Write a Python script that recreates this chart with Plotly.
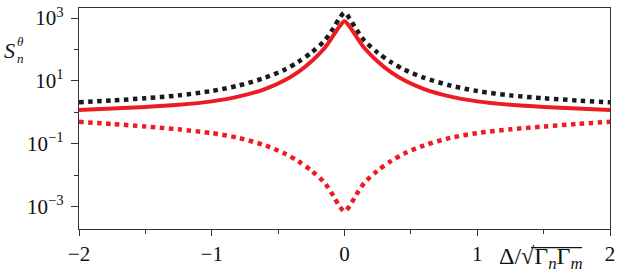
import plotly.graph_objects as go

delta = [-2.0, -1.75, -1.5, -1.25, -1.0, -0.8, -0.6, -0.45, -0.35, -0.25, -0.15, -0.08, -0.04, 0.0,
         0.04, 0.08, 0.15, 0.25, 0.35, 0.45, 0.6, 0.8, 1.0, 1.25, 1.5, 1.75, 2.0]

red_solid = [1.20, 1.32, 1.48, 1.74, 2.24, 3.16, 5.50, 10.5, 19.1, 41.7, 112, 295, 525, 794,
             525, 295, 112, 41.7, 19.1, 10.5, 5.50, 3.16, 2.24, 1.74, 1.48, 1.32, 1.20]

black_dotted = [2.09, 2.40, 2.82, 3.47, 4.79, 7.08, 12.6, 22.9, 39.8, 79.4, 191, 501, 955, 1479,
                955, 501, 191, 79.4, 39.8, 22.9, 12.6, 7.08, 4.79, 3.47, 2.82, 2.40, 2.09]

red_dotted = [0.50, 0.427, 0.355, 0.288, 0.219, 0.155, 0.0891, 0.0490, 0.0282, 0.0141, 0.00575, 0.00209, 0.00107, 0.000708,
              0.00107, 0.00209, 0.00575, 0.0141, 0.0282, 0.0490, 0.0891, 0.155, 0.219, 0.288, 0.355, 0.427, 0.50]

x_ticks = [-2, -1, 0, 1, 2]
x_ticktext = ["\u22122", "\u22121", "0", "1", "2"]
y_ticks = [1e-3, 1e-1, 1e1, 1e3]
y_ticktext = ["10<sup>\u22123</sup>", "10<sup>\u22121</sup>", "10<sup>1</sup>", "10<sup>3</sup>"]

RED = "#ED1C24"
BLACK = "#1a1a1a"
FONT = "Liberation Serif"
TXT = "#111"

# plot area in pixels
L, R, T, B = 79, 611, 4, 229
W, H = R - L, B - T


def px(x):
    return (x - L) / W


def py(y):
    return (B - y) / H


fig = go.Figure()
fig.add_trace(go.Scatter(x=delta, y=black_dotted, mode="lines",
                         line=dict(color=BLACK, width=4.5, dash="dot", shape="spline", smoothing=0.8)))
fig.add_trace(go.Scatter(x=delta, y=red_dotted, mode="lines",
                         line=dict(color=RED, width=4.5, dash="dot", shape="spline", smoothing=0.8)))
fig.add_trace(go.Scatter(x=delta, y=red_solid, mode="lines",
                         line=dict(color=RED, width=4, shape="spline", smoothing=0.8)))

axis_common = dict(showline=True, linecolor="#333", linewidth=1.2, mirror=True,
                   showgrid=False, zeroline=False, ticks="outside", tickcolor="#333",
                   tickwidth=1.2, tickfont=dict(family=FONT, size=21, color=TXT),
                   ticklabeloverflow="allow")

fig.update_layout(
    width=619, height=275,
    margin=dict(l=L, r=619 - R, t=T, b=275 - B),
    paper_bgcolor="white", plot_bgcolor="white",
    font=dict(family=FONT, color=TXT),
    showlegend=False,
    xaxis=dict(range=[-2, 2], tickvals=x_ticks, ticktext=x_ticktext, ticklen=6,
               minor=dict(tickvals=[-1.5, -0.5, 0.5, 1.5], ticklen=4, ticks="outside", tickcolor="#333", tickwidth=1.2),
               **axis_common),
    yaxis=dict(type="log", range=[-3.71, 3.32], tickvals=y_ticks, ticktext=y_ticktext, ticklen=7,
               minor=dict(tickvals=[1e-2, 1, 1e2], ticklen=4, ticks="outside", tickcolor="#333", tickwidth=1.2),
               ticklabelstandoff=3,
               **axis_common),
)

# x-axis title
fig.add_annotation(xref="paper", yref="paper", x=px(498), y=py(259),
                   showarrow=False, xanchor="left", yanchor="middle",
                   font=dict(family=FONT, size=24, color=TXT),
                   text="\u0394/\u221a\u0393<sub><i>n</i></sub>\u0393<sub><i>m</i></sub>")
fig.add_shape(type="line", xref="paper", yref="paper",
              x0=px(532), x1=px(583), y0=py(248), y1=py(248),
              line=dict(color=TXT, width=1.2))

# y-axis title S_n^theta
fig.add_annotation(xref="paper", yref="paper", x=px(9), y=py(47),
                   showarrow=False, xanchor="center", yanchor="middle",
                   font=dict(family=FONT, size=22, color=TXT), text="<i>S</i>")
fig.add_annotation(xref="paper", yref="paper", x=px(20), y=py(38),
                   showarrow=False, xanchor="center", yanchor="middle",
                   font=dict(family=FONT, size=13, color=TXT), text="<i>\u03b8</i>")
fig.add_annotation(xref="paper", yref="paper", x=px(20), y=py(55),
                   showarrow=False, xanchor="center", yanchor="middle",
                   font=dict(family=FONT, size=13, color=TXT), text="<i>n</i>")

fig.write_html("out.html")
